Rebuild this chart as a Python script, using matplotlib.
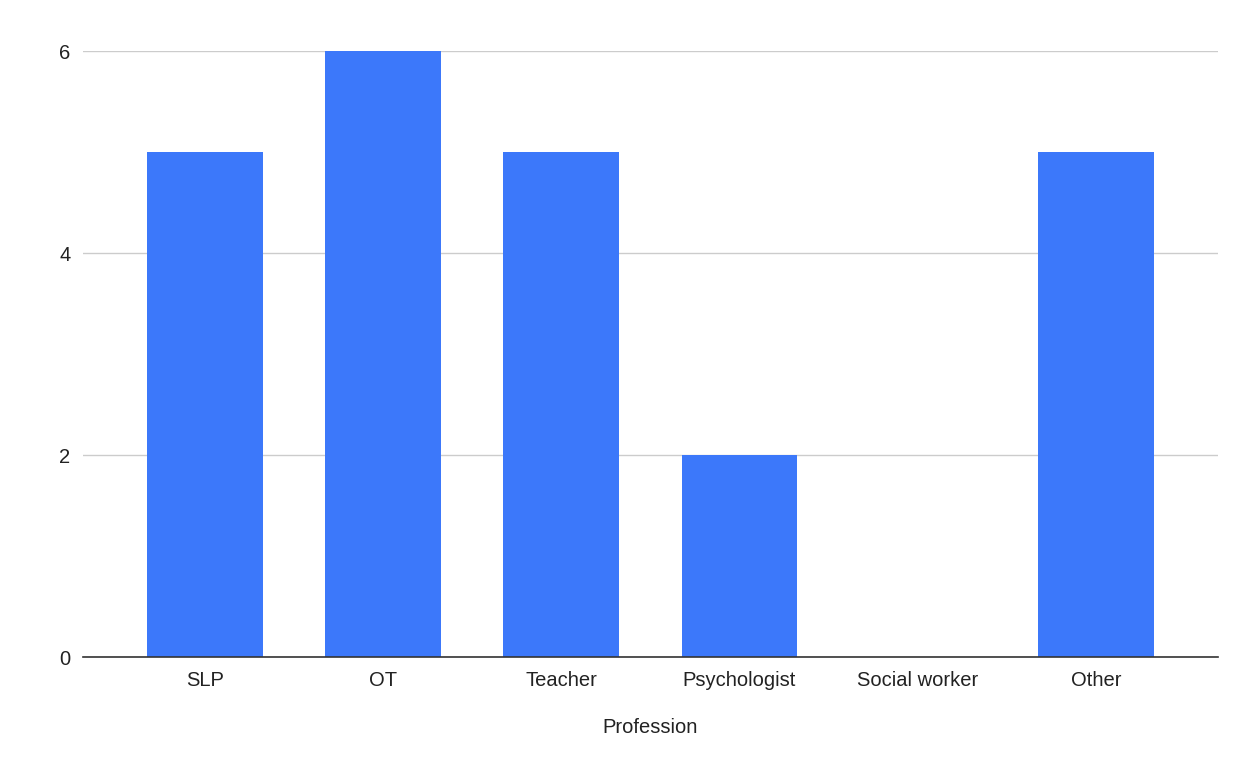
import matplotlib.pyplot as plt

plt.rcParams['font.family'] = ['Liberation Sans', 'DejaVu Sans']

professions = ['SLP', 'OT', 'Teacher', 'Psychologist', 'Social worker', 'Other']
counts = [5, 6, 5, 2, 0, 5]
yticks = [0, 2, 4, 6]

fig = plt.figure(figsize=(12.52, 7.73), dpi=100)
ax = fig.add_axes([0.0663, 0.150, 0.9065, 0.784])

x = range(len(professions))
ax.bar(x, counts, width=0.65, color='#3c78fa', zorder=3)

ax.set_xlim(-0.685, len(professions) - 1 + 0.685)
ax.set_ylim(0, 6)
ax.set_yticks(yticks)
ax.set_xticks(list(x))
ax.set_xticklabels(professions)

ax.grid(axis='y', color='#cccccc', linewidth=1, zorder=0)
for side in ['top', 'right', 'left']:
    ax.spines[side].set_visible(False)
ax.spines['bottom'].set_color('#333333')
ax.spines['bottom'].set_linewidth(1.2)
ax.spines['bottom'].set_zorder(4)

ax.tick_params(axis='both', length=0, labelsize=14.5, colors='#222222')
ax.tick_params(axis='x', pad=10)
ax.tick_params(axis='y', pad=9)
ax.set_xlabel('Profession', fontsize=14.5, color='#222222', labelpad=20)

fig.savefig('out.png', dpi=100)
